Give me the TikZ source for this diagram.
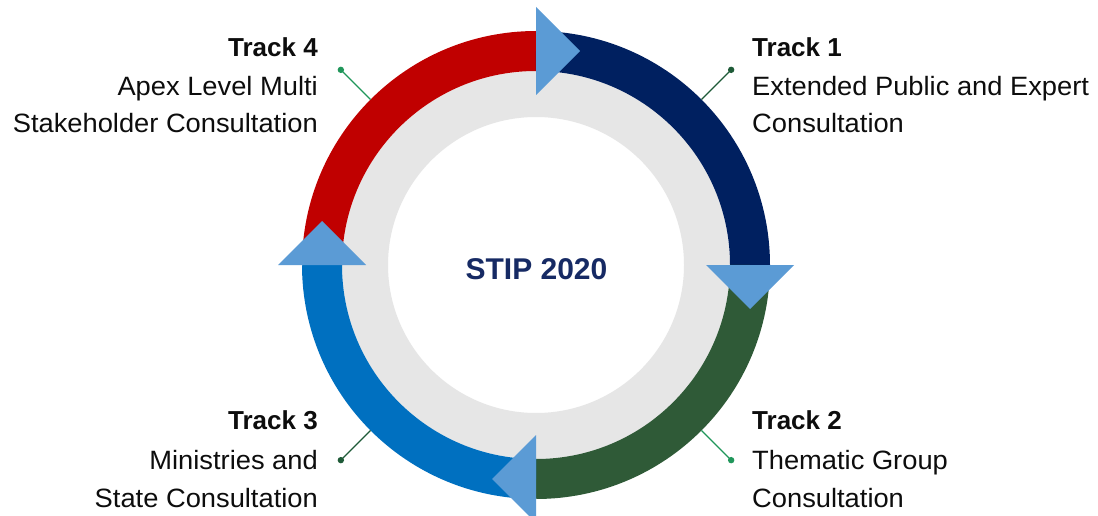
\documentclass[tikz,border=0pt]{standalone}
\usepackage{fontspec}
\setmainfont{Liberation Sans}[FakeStretch=1.03]
\newfontfamily\boldfam{Liberation Sans}
\usetikzlibrary{calc}
\definecolor{trkred}{RGB}{192,0,0}
\definecolor{trknavy}{RGB}{0,32,96}
\definecolor{trkgreen}{RGB}{47,90,55}
\definecolor{trkblue}{RGB}{0,112,192}
\definecolor{arrowblue}{RGB}{91,155,213}
\definecolor{ringgray}{RGB}{230,230,230}
\definecolor{leadA}{RGB}{32,150,90}
\definecolor{leadB}{RGB}{30,90,55}
\definecolor{stipnavy}{RGB}{22,42,100}
\definecolor{txt}{RGB}{13,13,13}
\tikzset{
  lbl/.style={inner sep=0pt, text=txt, font=\fontsize{26.5}{30}\selectfont},
  hd/.style={inner sep=0pt, text=txt, font=\boldfam\bfseries\fontsize{26}{30}\selectfont},
  seg/.style={line width=40pt},
  tri/.style={fill=arrowblue},
  leader/.style={line width=1.3pt},
}
\begin{document}
\begin{tikzpicture}[x=1pt,y=1pt]
\useasboundingbox (0,0) rectangle (1098,-516);
\fill[white] (0,0) rectangle (1098,-516);
\coordinate (C) at (536,-265);
% gray ring
\fill[ringgray, even odd rule] (C) circle (194) (C) circle (148);
% coloured quarters
\draw[seg, trkred]   ($(C)+(180:214)$) arc[start angle=180, end angle=90,  radius=214];
\draw[seg, trknavy]  ($(C)+(90:214)$)  arc[start angle=90,  end angle=0,   radius=214];
\draw[seg, trkgreen] ($(C)+(0:214)$)   arc[start angle=0,   end angle=-90, radius=214];
\draw[seg, trkblue]  ($(C)+(270:214)$) arc[start angle=270, end angle=180, radius=214];
% arrow heads
\foreach \a in {90,0,270,180} {
  \fill[tri] ($(C)+(\a:170)$) -- ($(C)+(\a:214)+(\a-90:44)$) -- ($(C)+(\a:258)$) -- cycle;
}
% centre title
\node[inner sep=0pt, anchor=base, text=stipnavy, font=\boldfam\bfseries\fontsize{30}{34}\selectfont] (title) at (536.5,-279) {STIP 2020};
% leader lines
\coordinate (r1) at ($(C)+(45:234)$);  \coordinate (d1) at ($(C)+(45:276)$);
\coordinate (r2) at ($(C)+(-45:234)$); \coordinate (d2) at ($(C)+(-45:276)$);
\coordinate (r3) at ($(C)+(225:234)$); \coordinate (d3) at ($(C)+(225:276)$);
\coordinate (r4) at ($(C)+(135:234)$); \coordinate (d4) at ($(C)+(135:276)$);
\draw[leader, leadB] (r1) -- (d1); \fill[leadB] (d1) circle (3.2);
\draw[leader, leadA] (r2) -- (d2); \fill[leadA] (d2) circle (3.2);
\draw[leader, leadB] (r3) -- (d3); \fill[leadB] (d3) circle (3.2);
\draw[leader, leadA] (r4) -- (d4); \fill[leadA] (d4) circle (3.2);
% Track 4
\node[hd,  anchor=base east] (t4a) at (318,-57)  {Track 4};
\node[lbl, anchor=base east] (t4b) at (318,-96)  {Apex Level Multi};
\node[lbl, anchor=base east] (t4c) at (318,-133) {Stakeholder Consultation};
% Track 1
\node[hd,  anchor=base west] (t1a) at (752,-57)  {Track 1};
\node[lbl, anchor=base west] (t1b) at (752,-96)  {Extended Public and Expert};
\node[lbl, anchor=base west] (t1c) at (752,-133) {Consultation};
% Track 3
\node[hd,  anchor=base east] (t3a) at (318,-429) {Track 3};
\node[lbl, anchor=base east] (t3b) at (318,-469) {Ministries and};
\node[lbl, anchor=base east] (t3c) at (318,-507) {State Consultation};
% Track 2
\node[hd,  anchor=base west] (t2a) at (752,-429) {Track 2};
\node[lbl, anchor=base west] (t2b) at (752,-469) {Thematic Group};
\node[lbl, anchor=base west] (t2c) at (752,-507) {Consultation};
\end{tikzpicture}
\end{document}
